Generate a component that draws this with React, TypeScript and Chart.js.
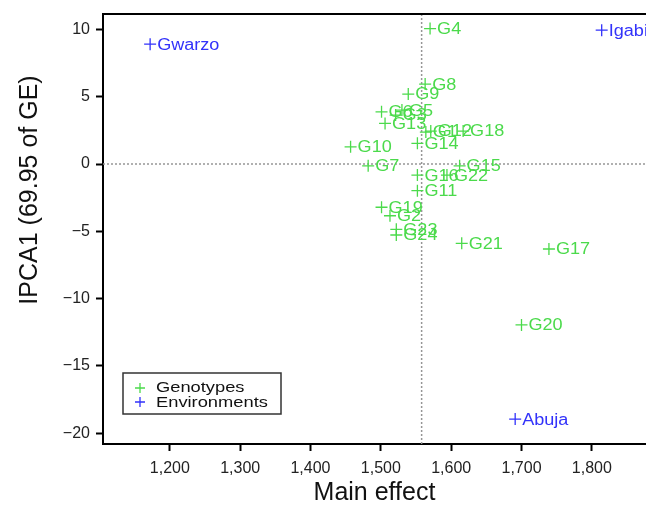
import React, { useEffect, useRef } from "react";
import { Chart, registerables } from "chart.js";

Chart.register(...registerables);

// ---- Data ----
const genotypeNames = ["G1", "G2", "G3", "G4", "G5", "G6", "G7", "G8", "G9", "G10", "G11", "G12", "G13", "G14", "G15", "G16", "G17", "G18", "G19", "G20", "G21", "G22", "G23", "G24"];
const genotypeMain = [1564, 1513, 1521, 1570, 1530, 1501, 1482, 1563, 1539, 1457, 1552, 1571, 1506, 1552, 1612, 1552, 1739, 1617, 1501, 1700, 1615, 1594, 1522, 1522];
const genotypeIPCA1 = [2.38, -3.84, 3.64, 10.07, 4.01, 3.88, -0.13, 5.94, 5.2, 1.28, -1.98, 2.45, 3.02, 1.54, -0.13, -0.82, -6.31, 2.45, -3.21, -11.95, -5.89, -0.82, -4.85, -5.27];

const envNames = ["Gwarzo", "Igabi", "Abuja"];
const envMain = [1172, 1814, 1691];
const envIPCA1 = [8.91, 9.95, -18.95];

const grandMean = 1558;
const xLimits = [1105, 1877];
const yLimits = [-20.8, 11.15];
const xStep = 100;
const yStep = 5;

const xTitle = "Main effect";
const yTitle = "IPCA1 (69.95 of GE)";
const legendLabels = ["Genotypes", "Environments"];

const GREEN = "rgb(75,218,75)";
const BLUE = "rgb(50,50,250)";
const FONT = "'Liberation Sans', Arial, Helvetica, sans-serif";

function stretchedText(ctx: CanvasRenderingContext2D, text: string, x: number, y: number, sx: number) {
  ctx.save();
  ctx.translate(x, y);
  ctx.scale(sx, 1);
  ctx.fillText(text, 0, 0);
  ctx.restore();
}

export default function App() {
  const ref = useRef<HTMLCanvasElement | null>(null);

  useEffect(() => {
    const canvas = ref.current;
    if (!canvas) return;

    const refLines = {
      id: "refLines",
      beforeDatasetsDraw(chart: any) {
        const { ctx, chartArea, scales } = chart;
        const x0 = scales.x.getPixelForValue(grandMean);
        const y0 = scales.y.getPixelForValue(0);
        ctx.save();
        ctx.strokeStyle = "rgb(150,150,150)";
        ctx.lineWidth = 1.5;
        ctx.setLineDash([2, 2]);
        ctx.beginPath();
        ctx.moveTo(chartArea.left, y0);
        ctx.lineTo(chartArea.right, y0);
        ctx.moveTo(x0, chartArea.top);
        ctx.lineTo(x0, chartArea.bottom);
        ctx.stroke();
        ctx.restore();
      },
    };

    const pointLabels = {
      id: "pointLabels",
      afterDatasetsDraw(chart: any) {
        const { ctx } = chart;
        ctx.save();
        ctx.font = `16px ${FONT}`;
        ctx.textBaseline = "middle";
        ctx.textAlign = "left";
        chart.data.datasets.forEach((ds: any, i: number) => {
          const meta = chart.getDatasetMeta(i);
          ctx.fillStyle = ds.borderColor;
          meta.data.forEach((el: any, j: number) => {
            stretchedText(ctx, ds.labels[j], el.x + 7, el.y + 1, 1.13);
          });
        });
        ctx.restore();
      },
    };

    const frameAndLegend = {
      id: "frameAndLegend",
      afterDraw(chart: any) {
        const { ctx, chartArea } = chart;
        ctx.save();
        // top border
        ctx.strokeStyle = "#000";
        ctx.lineWidth = 2;
        ctx.beginPath();
        ctx.moveTo(chartArea.left - 1, chartArea.top);
        ctx.lineTo(chartArea.right, chartArea.top);
        ctx.stroke();
        // y title
        ctx.fillStyle = "#111";
        ctx.font = `25px ${FONT}`;
        ctx.textAlign = "center";
        ctx.textBaseline = "middle";
        ctx.translate(30, 190);
        ctx.rotate(-Math.PI / 2);
        ctx.fillText(yTitle, 0, 0);
        ctx.restore();

        // legend
        ctx.save();
        const bx = 123, by = 373, bw = 158, bh = 41;
        ctx.fillStyle = "#fff";
        ctx.fillRect(bx, by, bw, bh);
        ctx.font = `15px ${FONT}`;
        ctx.textBaseline = "alphabetic";
        ctx.textAlign = "left";
        ctx.fillStyle = "#111";
        stretchedText(ctx, legendLabels[0], 156, 392, 1.22);
        stretchedText(ctx, legendLabels[1], 156, 407, 1.22);
        ctx.strokeStyle = "#333";
        ctx.lineWidth = 1.5;
        ctx.strokeRect(bx, by, bw, bh);
        const crosses = [
          [140, 388, GREEN],
          [140, 402, BLUE],
        ];
        ctx.lineWidth = 1.3;
        crosses.forEach(([cx, cy, col]: any) => {
          ctx.strokeStyle = col;
          ctx.beginPath();
          ctx.moveTo(cx - 5, cy);
          ctx.lineTo(cx + 5, cy);
          ctx.moveTo(cx, cy - 5);
          ctx.lineTo(cx, cy + 5);
          ctx.stroke();
        });
        ctx.restore();
      },
    };

    const chart = new Chart(canvas, {
      type: "scatter",
      data: {
        datasets: [
          {
            label: legendLabels[0],
            data: genotypeMain.map((x, i) => ({ x, y: genotypeIPCA1[i] })),
            labels: genotypeNames,
            borderColor: GREEN,
            backgroundColor: GREEN,
            pointStyle: "cross",
            pointRadius: 6,
            borderWidth: 1.3,
          } as any,
          {
            label: legendLabels[1],
            data: envMain.map((x, i) => ({ x, y: envIPCA1[i] })),
            labels: envNames,
            borderColor: BLUE,
            backgroundColor: BLUE,
            pointStyle: "cross",
            pointRadius: 6,
            borderWidth: 1.3,
          } as any,
        ],
      },
      options: {
        animation: false,
        responsive: false,
        devicePixelRatio: 1,
        layout: { autoPadding: false, padding: { top: 14, left: 0, right: 0, bottom: 0 } },
        plugins: { legend: { display: false }, tooltip: { enabled: false } },
        scales: {
          x: {
            type: "linear",
            min: xLimits[0],
            max: xLimits[1],
            afterFit: (s: any) => {
              s.height = 62;
              s.paddingLeft = 0;
              s.paddingRight = 0;
            },
            ticks: {
              stepSize: xStep,
              includeBounds: false,
              autoSkip: false,
              maxRotation: 0,
              padding: 8,
              color: "#222",
              font: { family: FONT, size: 16 },
              callback: (v: any) => Number(v).toLocaleString("en-US"),
            },
            grid: {
              drawOnChartArea: false,
              drawTicks: true,
              tickLength: 7,
              tickWidth: 2,
              tickColor: "#000",
            },
            border: { display: true, color: "#000", width: 2 },
            title: {
              display: true,
              text: xTitle,
              color: "#111",
              font: { family: FONT, size: 25, lineHeight: 1 },
              padding: { top: 0, bottom: 0 },
            },
          },
          y: {
            type: "linear",
            min: yLimits[0],
            max: yLimits[1],
            afterFit: (s: any) => {
              s.width = 103;
              s.paddingTop = 0;
              s.paddingBottom = 0;
            },
            ticks: {
              stepSize: yStep,
              includeBounds: false,
              autoSkip: false,
              padding: 6,
              color: "#222",
              font: { family: FONT, size: 16 },
              callback: (v: any) => (v < 0 ? "\u2212" + Math.abs(v) : String(v)),
            },
            grid: {
              drawOnChartArea: false,
              drawTicks: true,
              tickLength: 7,
              tickWidth: 2,
              tickColor: "#000",
            },
            border: { display: true, color: "#000", width: 2 },
            title: { display: false },
          },
        },
      } as any,
      plugins: [refLines, pointLabels, frameAndLegend],
    });

    return () => chart.destroy();
  }, []);

  return (
    <canvas
      ref={ref}
      width={646}
      height={506}
      style={{ position: "fixed", left: 0, top: 0, width: "646px", height: "506px", background: "#fff" }}
    />
  );
}
